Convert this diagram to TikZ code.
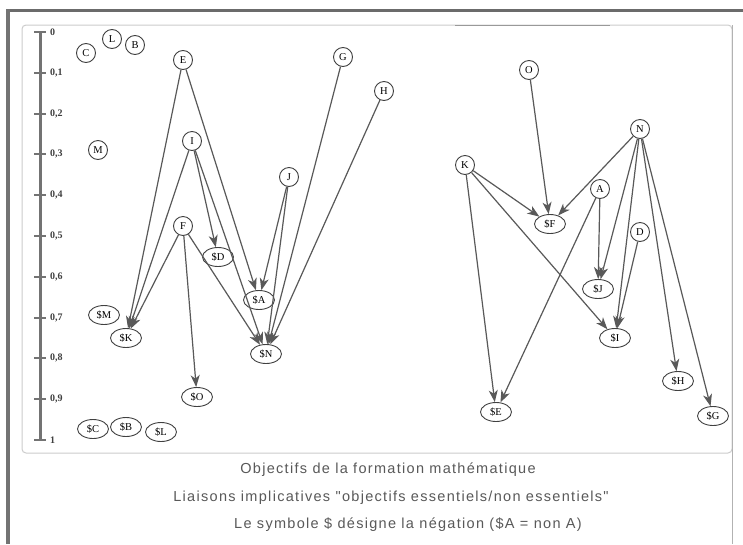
\documentclass[tikz,border=0pt]{standalone}
\usepackage{fontspec}
\setmainfont{Liberation Serif}
\newfontfamily\capfont{Liberation Sans}
\usetikzlibrary{arrows.meta,shapes.geometric}

\begin{document}
\begin{tikzpicture}[x=1pt,y=-1pt,
  obj/.style={circle,draw=black!75,line width=0.9pt,fill=white,minimum size=19pt,
    inner sep=0pt,font=\fontsize{10.5}{10.5}\selectfont},
  neg/.style={ellipse,draw=black!75,line width=0.9pt,fill=white,minimum width=31pt,
    minimum height=19pt,inner sep=0pt,font=\fontsize{10.5}{10.5}\selectfont},
  imp/.style={draw=black!65,line width=1.2pt,
    -{Stealth[length=12pt,width=9pt,inset=3.5pt]}},
  axislab/.style={anchor=west,inner sep=0pt,font=\fontsize{10}{10}\selectfont\bfseries,text=black!75},
  caption/.style={inner sep=0pt,text=black!65,
    font=\capfont\fontsize{14.5}{15}\selectfont\addfontfeature{LetterSpace=9}}
]
\useasboundingbox (0,0) rectangle (743,544);
\fill[white] (0,0) rectangle (743,544);

% frames
\draw[black!20,line width=1pt,rounded corners=4pt] (22,25) rectangle (732,453);
\draw[black!30,line width=1pt] (732,25) -- (732,544);
\draw[black!40,line width=0.8pt] (455,25) -- (610,25);
\draw[black!58,line width=3pt] (8,10) -- (743,10);
\draw[black!55,line width=4pt] (8,9) -- (8,544);

% vertical scale
\draw[black!55,line width=3pt] (40,32) -- (40,440);
\foreach \v/\t in {0/0,1/{0,1},2/{0,2},3/{0,3},4/{0,4},5/{0,5},6/{0,6},7/{0,7},8/{0,8},9/{0,9},10/1}{
  \draw[black!55,line width=2pt] (34,32+40.8*\v) -- (46,32+40.8*\v);
  \node[axislab] (lab\v) at (50,32+40.8*\v) {\t};
}

% objectives
\node[obj] (L) at (112,39) {L};
\node[obj] (B) at (135,45) {B};
\node[obj] (C) at (86,53) {C};
\node[obj] (E) at (183,60) {E};
\node[obj] (G) at (343,57) {G};
\node[obj] (H) at (384,91) {H};
\node[obj] (I) at (192,141) {I};
\node[obj] (M) at (98,150) {M};
\node[obj] (J) at (289,177) {J};
\node[obj] (F) at (183,226) {F};
\node[obj] (O) at (529,70) {O};
\node[obj] (N) at (640,129) {N};
\node[obj] (K) at (465,165) {K};
\node[obj] (A) at (600,189) {A};
\node[obj] (D) at (640,232) {D};

% negations
\node[neg] (nD) at (218,257) {\$D};
\node[neg] (nA) at (259,300) {\$A};
\node[neg] (nM) at (104,315) {\$M};
\node[neg] (nK) at (126,338) {\$K};
\node[neg] (nN) at (266,354) {\$N};
\node[neg] (nO) at (197,397) {\$O};
\node[neg] (nC) at (93,429) {\$C};
\node[neg] (nB) at (126,427) {\$B};
\node[neg] (nL) at (161,432) {\$L};
\node[neg] (nF) at (550,224) {\$F};
\node[neg] (nJ) at (598,289) {\$J};
\node[neg] (nI) at (615,338) {\$I};
\node[neg] (nH) at (678,381) {\$H};
\node[neg] (nE) at (496,412) {\$E};
\node[neg] (nG) at (713,416) {\$G};

% implications, left group
\draw[imp] (E) -- (nK);
\draw[imp] (E) -- (nA);
\draw[imp] (I) -- (nK);
\draw[imp] (I) -- (nD);
\draw[imp] (I) -- (nN);
\draw[imp] (F) -- (nK);
\draw[imp] (F) -- (nN);
\draw[imp] (F) -- (nO);
\draw[imp] (J) -- (nA);
\draw[imp] (J) -- (nN);
\draw[imp] (G) -- (nN);
\draw[imp] (H) -- (nN);

% implications, right group
\draw[imp] (O) -- (nF);
\draw[imp] (K) -- (nF);
\draw[imp] (N) -- (nF);
\draw[imp] (K) -- (nI);
\draw[imp] (K) -- (nE);
\draw[imp] (A) -- (nJ);
\draw[imp] (A) -- (nE);
\draw[imp] (N) -- (nJ);
\draw[imp] (N) -- (nI);
\draw[imp] (D) -- (nI);
\draw[imp] (N) -- (nH);
\draw[imp] (N) -- (nG);

% captions
\node[caption] (cap1) at (388,470) {Objectifs de la formation mathématique};
\node[caption] (cap2) at (391,498) {Liaisons implicatives "objectifs essentiels/non essentiels"};
\node[caption] (cap3) at (408,525) {Le symbole \$ désigne la négation (\$A = non A)};
\end{tikzpicture}
\end{document}
